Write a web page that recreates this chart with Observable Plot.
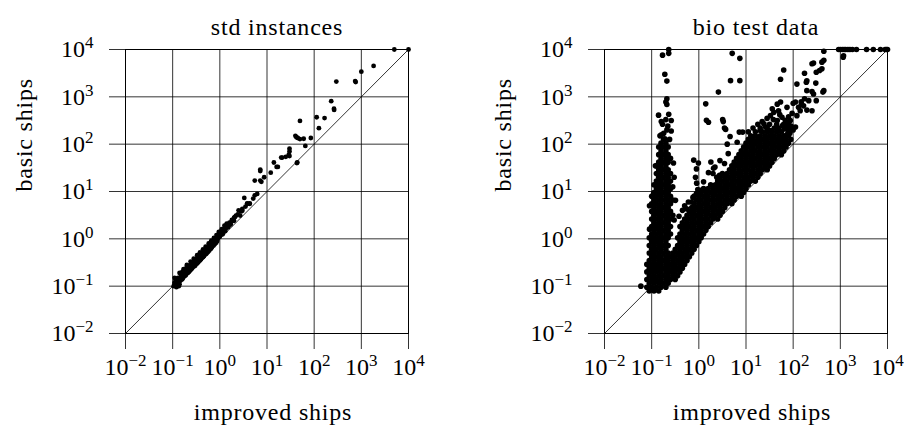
<!DOCTYPE html>
<html>
<head>
<meta charset="utf-8">
<script src="https://cdn.jsdelivr.net/npm/d3@7"></script>
<script src="https://cdn.jsdelivr.net/npm/@observablehq/plot@0.6"></script>
<style>
  html, body { margin: 0; padding: 0; background: #fff; }
  #chart { display: flex; width: 904px; height: 436px; background: #fff; }
  #chart svg { overflow: visible; }
</style>
</head>
<body>
<div id="chart"></div>
<script>
// ---- axis ticks / labels ----
const tickValues = [1e-2, 1e-1, 1, 10, 100, 1000, 10000];
const tickExponents = ["−2", "−1", "0", "1", "2", "3", "4"];
const titles = ["std instances", "bio test data"];
const xLabel = "improved ships";
const yLabel = "basic ships";
const diagonal = [1e-2, 1e4];

// ---- std instances: [improved, basic] ----
const stdPoints = [
  [5000,10000],[10000,10000],[1820,4500],[1000,3400],[740,2150],[760,2050],[295,2100],[230,810],
  [263,560],[265,530],[113,370],[166,355],[50,310],[126,218],[40,150],[42,140],[45,135],[50,128],
  [60,130],[85,135],[65,92],[30,80],[30,70],[29,60],[30,56],[20,52],[14,41],[16,33],[7.2,29],
  [44,41],[25,54],[21,52],[17,33],[12,25],[8.7,20],[7.2,17],[7.6,16],[7.2,27],[5.5,17],[43,40],
  [6.2,8.9],[5.5,8.3],[5.1,7.1],[4.3,5.6],[4.3,5.5],[3.8,5.5],[3.8,5.6],[3.3,7.3],[3.5,4.8],
  [3.0,4.3],[3.0,3.9],[2.8,3.8],[2.7,3.1],[2.5,4.0],[2.4,3.3],[2.2,3.1],[2.1,2.9],[2.0,2.8],
  [1.9,2.4],[1.8,2.5],[1.7,2.2],[1.6,2.2],[1.55,2.0],[1.5,1.9],[1.4,1.8],[1.35,1.7],[1.3,1.55],
  [1.25,1.6],[1.2,1.5],[1.15,1.35],[1.1,1.4],[1.05,1.25],[1.0,1.3],[1.0,1.2],[0.96,1.15],[0.93,1.1],
  [0.9,1.0],[0.88,1.02],[0.85,0.92],[0.83,0.95],[0.8,0.9],[0.78,0.82],[0.75,0.84],[0.72,0.74],
  [0.7,0.78],[0.68,0.7],[0.66,0.72],[0.65,0.82],[0.64,0.64],[0.62,0.68],[0.6,0.62],[0.58,0.63],
  [0.56,0.56],[0.55,0.52],[0.54,0.6],[0.52,0.5],[0.5,0.54],[0.48,0.47],[0.46,0.5],[0.45,0.44],
  [0.45,0.55],[0.43,0.47],[0.41,0.39],[0.4,0.43],[0.38,0.37],[0.37,0.4],[0.36,0.35],[0.35,0.38],
  [0.34,0.33],[0.33,0.37],[0.32,0.31],[0.31,0.34],[0.3,0.3],[0.3,0.27],[0.29,0.33],[0.28,0.27],
  [0.27,0.29],[0.26,0.26],[0.255,0.28],[0.25,0.23],[0.25,0.31],[0.24,0.25],[0.235,0.26],[0.23,0.21],
  [0.22,0.23],[0.215,0.2],[0.21,0.24],[0.205,0.21],[0.2,0.19],[0.2,0.26],[0.195,0.22],[0.19,0.17],
  [0.185,0.2],[0.18,0.18],[0.175,0.16],[0.17,0.19],[0.165,0.15],[0.16,0.17],[0.16,0.2],[0.155,0.14],
  [0.15,0.16],[0.145,0.13],[0.14,0.15],[0.14,0.11],[0.135,0.10],[0.13,0.115],[0.125,0.13],
  [0.12,0.11],[0.12,0.095],[0.115,0.14],[0.11,0.12],[0.105,0.10],
  [0.12,0.14],[0.13,0.15],[0.15,0.18],[0.17,0.21],[0.19,0.23],[0.22,0.27],[0.25,0.29],[0.28,0.33],
  [0.31,0.37],[0.34,0.41],[0.38,0.45],[0.42,0.5],[0.47,0.56],[0.52,0.62],[0.57,0.69],[0.63,0.76],
  [0.7,0.85],[0.77,0.95],[0.85,1.05],[0.95,1.2],[1.05,1.35],[1.15,1.5],[1.3,1.75],[1.45,2.0],
  [0.13,0.12],[0.16,0.14],[0.19,0.18],[0.22,0.2],[0.26,0.24],[0.3,0.28],[0.35,0.32],[0.4,0.37],
  [0.46,0.43],[0.52,0.49],[0.6,0.57],[0.68,0.66],[0.78,0.77],[0.88,0.9],[1.0,1.1],[1.15,1.25],
  [1.3,1.45],[1.5,1.75],[1.7,2.0],[2.0,2.4],
  [0.11,0.11],[0.12,0.125],[0.13,0.13],[0.14,0.135],[0.11,0.105],[0.125,0.12],[0.15,0.15],
  [0.11,0.15],[0.14,0.19],[0.17,0.23],[0.2,0.28],[0.24,0.33],[0.28,0.38],[0.33,0.45],[0.38,0.52],
  [0.44,0.6],[0.5,0.68],[0.58,0.8],[0.66,0.92],[0.75,1.05],[0.85,1.2],[0.95,1.4],[1.1,1.6],
  [1.25,1.9],[1.4,2.1],
  [0.15,0.14],[0.18,0.165],[0.21,0.19],[0.24,0.22],[0.28,0.26],[0.33,0.3],[0.38,0.35],[0.44,0.41],
  [0.5,0.47],[0.57,0.54],[0.65,0.62],[0.74,0.72],[0.84,0.83]
];

// ---- bio test data, dense part: rows of [basic, [improved...]] ----
const bioRows = [
  [0.079, [0.089,0.112,0.141]],
  [0.095, [0.079,0.1,0.126,0.158,0.2]],
  [0.115, [0.089,0.112,0.141,0.178,0.224]],
  [0.138, [0.079,0.1,0.126,0.158,0.2,0.251,0.316]],
  [0.166, [0.089,0.112,0.141,0.178,0.224,0.282,0.355]],
  [0.2,   [0.079,0.1,0.126,0.158,0.2,0.251,0.316,0.398]],
  [0.24,  [0.089,0.112,0.141,0.178,0.224,0.282,0.355,0.447]],
  [0.288, [0.079,0.1,0.126,0.158,0.2,0.251,0.316,0.398,0.5]],
  [0.347, [0.089,0.112,0.141,0.178,0.224,0.282,0.355,0.447,0.562]],
  [0.417, [0.1,0.126,0.158,0.2,0.251,0.316,0.398,0.5,0.631]],
  [0.5,   [0.089,0.112,0.141,0.178,0.224,0.282,0.355,0.447,0.562,0.708]],
  [0.603, [0.1,0.126,0.158,0.2,0.316,0.398,0.5,0.631,0.794]],
  [0.724, [0.089,0.112,0.141,0.178,0.224,0.355,0.447,0.562,0.708,0.891]],
  [0.871, [0.1,0.126,0.158,0.2,0.398,0.5,0.631,0.794,1.0]],
  [1.05,  [0.089,0.112,0.141,0.178,0.224,0.355,0.447,0.562,0.708,0.891,1.12]],
  [1.26,  [0.1,0.126,0.158,0.2,0.251,0.398,0.5,0.631,0.794,1.0,1.26]],
  [1.51,  [0.112,0.141,0.178,0.224,0.447,0.562,0.708,0.891,1.12,1.41]],
  [1.82,  [0.1,0.126,0.158,0.2,0.251,0.398,0.5,0.631,0.794,1.0,1.26,1.58]],
  [2.19,  [0.112,0.141,0.178,0.224,0.447,0.562,0.708,0.891,1.12,1.41,1.78]],
  [2.63,  [0.1,0.126,0.158,0.2,0.251,0.5,0.631,0.794,1.0,1.26,1.58,2.0,2.51]],
  [3.16,  [0.112,0.141,0.178,0.224,0.282,0.562,0.708,0.891,1.12,1.41,1.78,2.24,2.82]],
  [3.8,   [0.1,0.126,0.158,0.2,0.251,0.631,0.794,1.0,1.26,1.58,2.0,2.51,3.16]],
  [4.57,  [0.112,0.141,0.178,0.224,0.708,0.891,1.12,1.41,1.78,2.24,2.82,3.55]],
  [5.5,   [0.1,0.126,0.158,0.2,0.251,0.794,1.0,1.26,1.58,2.0,2.51,3.16,3.98,5.01]],
  [6.6,   [0.112,0.141,0.178,0.224,0.282,0.891,1.12,1.41,1.78,2.24,2.82,3.55,4.47,5.62]],
  [7.94,  [0.1,0.126,0.158,0.2,0.251,1.0,1.26,1.58,2.0,2.51,3.16,3.98,5.01,6.31,7.94]],
  [9.55,  [0.112,0.141,0.178,0.224,1.12,1.41,1.78,2.24,2.82,3.55,4.47,5.62,7.08,8.91]],
  [11.5,  [0.126,0.158,0.2,0.251,1.26,1.58,2.0,2.51,3.16,3.98,5.01,6.31,7.94,10]],
  [13.8,  [0.112,0.141,0.178,0.224,1.78,2.24,2.82,3.55,4.47,5.62,7.08,8.91,11.2]],
  [16.6,  [0.126,0.158,0.2,0.251,2.51,3.16,3.98,5.01,6.31,7.94,10,12.6,15.8]],
  [20,    [0.141,0.178,0.224,2.82,3.55,4.47,5.62,7.08,8.91,11.2,14.1,17.8]],
  [24,    [0.126,0.158,0.2,0.251,3.16,3.98,5.01,6.31,7.94,10,12.6,15.8,20]],
  [28.8,  [0.141,0.178,0.224,4.47,5.62,7.08,8.91,11.2,14.1,17.8,22.4,28.2]],
  [34.7,  [0.126,0.158,0.2,5.01,6.31,7.94,10,12.6,15.8,20,25.1,31.6]],
  [41.7,  [0.141,0.178,0.224,5.62,7.08,8.91,11.2,14.1,17.8,22.4,28.2,35.5]],
  [50,    [0.158,0.2,0.251,6.31,7.94,10,12.6,15.8,20,25.1,31.6,39.8]],
  [60,    [0.141,0.178,0.224,7.08,8.91,11.2,14.1,17.8,22.4,28.2,35.5,44.7,56.2]],
  [72,    [0.158,0.2,7.94,10,12.6,15.8,20,25.1,31.6,39.8,50.1,63.1]],
  [87,    [0.141,0.178,0.224,8.91,11.2,14.1,17.8,22.4,28.2,35.5,44.7,56.2,70.8]],
  [105,   [0.158,0.2,10,12.6,15.8,20,25.1,31.6,39.8,50.1,63.1,79.4]],
  [126,   [0.178,11.2,14.1,17.8,22.4,28.2,35.5,44.7,56.2,70.8,89.1]],
  [151,   [12.6,15.8,20,25.1,31.6,39.8,50.1,63.1,79.4]],
  [182,   [11.2,15.8,22.4,28.2,35.5,44.7,56.2,79.4]],
  [219,   [14.1,20,28.2,39.8,50.1,70.8]],
  [263,   [17.8,31.6,44.7,63.1]]
];

// ---- bio test data, scattered part: [improved, basic] ----
const bioScatter = [
  [0.23,10000],[0.17,7600],[0.23,8300],[0.19,3000],[0.21,2150],[0.21,910],[0.2,780],[0.21,690],
  [0.14,410],[0.23,430],[0.26,316],[0.17,263],[0.21,200],[0.26,190],[0.16,158],[0.15,150],
  [0.24,126],[0.19,130],[0.18,170],[0.22,240],[0.16,300],[0.2,330],
  [0.28,12.6],[0.11,9],[0.3,20],[0.29,40],[0.12,35],[0.3,2.5],[0.32,6.5],[0.09,1.6],[0.09,5],[0.059,0.1],
  [0.78,46],[0.98,40],[0.89,30],[0.85,20],[0.9,15],[0.95,11],[0.89,9],[0.8,8],[0.75,7.5],
  [1.26,16],[1.2,11],[0.6,6],[0.5,5],[0.45,4],[0.38,3],[0.55,4.3],[0.7,6],
  [2.2,33],[2.05,31],[3.5,39],[4.2,63],[2.4,20],[2.75,22],[2.0,24],[2.8,45],[1.6,25],[1.8,42],
  [5.1,8300],[7.4,6500],[4.7,2200],[7.4,2200],[2.6,1260],[1.4,710],[1.45,320],[1.6,290],
  [3.2,330],[3.3,300],[3.5,220],[3.7,205],[4.6,145],[8.5,180],[7.2,180],[6.5,110],[4.0,100],
  [447,9200],[407,5400],[447,5900],[251,5000],[270,5200],[309,3300],[363,3600],[407,3900],
  [174,3160],[195,2190],[302,1950],[120,1860],[190,2040],[63,3700],[54,2350],[447,1350],
  [427,1260],[270,1150],[251,1290],[195,1350],[309,830],[214,830],[174,910],[148,790],
  [112,780],[100,730],[74,600],[54,780],[251,510],[195,525],[166,645],[141,510],[120,400],
  [46,700],[49,510],[39,470],[33,400],[58,370],[68,320],[87,316],[63,245],[46,316],[26,230],
  [33,195],[20,195],[112,230],[87,195],[47,195],[74,160],[54,140],[18.6,138],[14.5,117],
  [60,250],[70,280],[80,260],[75,230],[65,210],[90,240],[100,200],[85,170],
  [22,300],[28,350],[38,330],[52,420],[80,380],[95,450],[130,600],[150,700],[36,560],[24,270]
];

// ---- bio test data, timeouts at the top: [improved, basic] ----
const bioTimeouts = [
  [920,10000],[1000,10000],[1100,10000],[1200,10000],[1300,10000],[1450,10000],[1600,10000],
  [1800,10000],[2200,10000],[3600,10000],[5000,10000],[7100,10000],[8900,10000],[9500,10000],
  [10000,10000],[1170,7400],[1150,6900]
];

const stdData = stdPoints.map(([x, y]) => ({x, y}));
const bioData = [
  ...bioRows.flatMap(([y, xs]) => xs.map(x => ({x, y}))),
  ...bioScatter.map(([x, y]) => ({x, y})),
  ...bioTimeouts.map(([x, y]) => ({x, y}))
];

const FONT = "'Liberation Serif', 'DejaVu Serif', serif";
const FS = 24;
const expOf = v => tickExponents[tickValues.indexOf(v)];

function panel(title, data, marginLeft, marginRight, dotR) {
  const svg = Plot.plot({
    width: 452,
    height: 436,
    marginLeft, marginRight,
    marginTop: 49,
    marginBottom: 103,
    x: {type: "log", domain: [1e-2, 1e4]},
    y: {type: "log", domain: [1e-2, 1e4]},
    style: {fontFamily: FONT, fontSize: FS + "px", color: "#000", background: "#fff", overflow: "visible"},
    marks: [
      Plot.gridX(tickValues, {stroke: "#000", strokeOpacity: 0.8, strokeWidth: 1}),
      Plot.gridY(tickValues, {stroke: "#000", strokeOpacity: 0.8, strokeWidth: 1}),
      Plot.axisX(tickValues, {tickSize: 16, tickPadding: 8, tickFormat: v => "10^" + expOf(v), label: null, stroke: "#000", strokeOpacity: 0.8, fontSize: FS}),
      Plot.axisY(tickValues, {tickSize: 16, tickPadding: 16, tickFormat: v => "10^" + expOf(v), label: null, stroke: "#000", strokeOpacity: 0.8, fontSize: FS}),
      Plot.line(diagonal, {x: d => d, y: d => d, stroke: "#000", strokeWidth: 0.8}),
      Plot.dot(data, {x: "x", y: "y", r: dotR, fill: "#000", stroke: "none"}),
      Plot.frame({stroke: "#000", strokeWidth: 1}),
      Plot.text([title], {frameAnchor: "top", dy: -32, dx: 10, fontSize: FS}),
      Plot.text([xLabel], {frameAnchor: "bottom", dy: 86, dx: 6, fontSize: FS}),
      Plot.text([yLabel], {frameAnchor: "left", dx: -101, rotate: -90, fontSize: FS})
    ]
  });
  // turn "10^e" tick labels into 10 with a raised exponent
  svg.querySelectorAll('g[aria-label$="tick label"] text').forEach(t => {
    const m = t.textContent.match(/^10\^(.+)$/);
    if (!m) return;
    t.textContent = "10";
    const ts = document.createElementNS("http://www.w3.org/2000/svg", "tspan");
    ts.setAttribute("font-size", "17");
    ts.setAttribute("dy", "-9");
    ts.textContent = m[1];
    t.appendChild(ts);
  });
  // letter spacing on the label texts
  svg.querySelectorAll('g[aria-label="text"] text').forEach(t => t.setAttribute("letter-spacing", "0.8"));
  return svg;
}

const chart = document.getElementById("chart");
chart.appendChild(panel(titles[0], stdData, 125, 44, 2.4));
chart.appendChild(panel(titles[1], bioData, 152, 17, 2.8));
</script>
</body>
</html>
